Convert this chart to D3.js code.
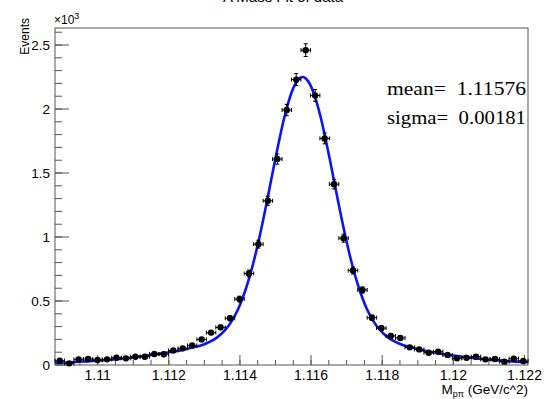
<!DOCTYPE html>
<html>
<head>
<meta charset="utf-8">
<script src="https://cdn.jsdelivr.net/npm/d3@7"></script>
<style>
  html, body { margin: 0; padding: 0; background: #fff; }
  svg { display: block; }
  text.sans { font-family: "Liberation Sans", Arial, Helvetica, sans-serif; }
  text.serif { font-family: "Liberation Serif", "Times New Roman", serif; }
</style>
</head>
<body>
<svg id="chart" width="548" height="399"></svg>
<script>
// ---- data ----
const histTitle = "Λ Mass Fit of data";
const xTitleMain = "M";
const xTitleSub = "pπ";
const xTitleRest = " (GeV/c^2)";
const yTitle = "Events";
const yExponent = "3";
const xRange = [1.1088, 1.1221];
const nBins = 50;
const counts = [34,13,44,47,39,44,57,52,65,65,
                86,84,113,130,153,200,253,294,365,515,
                715,944,1283,1609,1992,2230,2460,2106,1770,1413,
                991,738,586,370,288,227,211,138,122,96,
                104,78,52,57,65,44,47,26,49,31];
const fitX = [1.1088,1.1091,1.1096,1.1101,1.1106,1.1111,1.1116,1.1121,1.11236,1.11276,
              1.11296,1.11316,1.11336,1.11356,1.11376,1.11386,1.11396,1.11406,1.11416,1.11426,
              1.11436,1.11446,1.11456,1.11466,1.11476,1.11486,1.11496,1.11506,1.11516,1.11526,
              1.11536,1.11546,1.11556,1.11566,1.11576,1.11586,1.11596,1.11606,1.11616,1.11626,
              1.11636,1.11646,1.11656,1.11666,1.11676,1.11686,1.11696,1.11706,1.11716,1.11726,
              1.11736,1.11746,1.11756,1.11766,1.11776,1.11796,1.11816,1.11836,1.11856,1.11876,
              1.11916,1.11966,1.12016,1.12066,1.12116,1.12166,1.1221];
const fitY = [17,20,27,35,47,63,82,104,116,142,
              158,182,216,266,339,388,444,512,590,679,
              779,891,1012,1142,1279,1420,1560,1698,1828,1947,
              2050,2135,2198,2237,2250,2237,2198,2135,2050,1947,
              1828,1698,1560,1420,1279,1142,1012,891,779,679,
              590,512,444,388,339,266,216,182,158,142,
              113,88,68,51,38,28,22];
const xMajorTicks = [1.110,1.112,1.114,1.116,1.118,1.120,1.122];
const xTickLabels = ["1.11","1.112","1.114","1.116","1.118","1.12","1.122"];
const yMajorTicks = [0,500,1000,1500,2000,2500];
const yTickLabels = ["0","0.5","1","1.5","2","2.5"];
const yMax = 2633;
const statLabels = ["mean=  1.11576", "sigma=  0.00181"];

// ---- layout ----
const L = 55, R = 528, T = 28, B = 365;
const svg = d3.select("#chart");
const x = d3.scaleLinear().domain(xRange).range([L, R]);
const y = d3.scaleLinear().domain([0, yMax]).range([B, T]);
const binW = (xRange[1] - xRange[0]) / nBins;
const pts = counts.map((c, i) => ({ xc: xRange[0] + (i + 0.5) * binW, v: c, e: Math.sqrt(c) }));

// title (mostly clipped at the top, as in reference)
svg.append("text").attr("class", "sans").attr("x", 283).attr("y", 2).attr("text-anchor", "middle")
  .attr("font-size", 15).attr("fill", "#000").text(histTitle);

// frame
svg.append("rect").attr("x", L).attr("y", T).attr("width", R - L).attr("height", B - T)
  .attr("fill", "none").attr("stroke", "#555").attr("stroke-width", 1);

// x axis ticks
const xMinor = d3.range(1.1090, xRange[1] + 1e-9, 0.0005);
const tickCol = "#555";
svg.append("g").selectAll("line").data(xMinor).join("line")
  .attr("x1", d => x(d)).attr("x2", d => x(d)).attr("y1", B).attr("y2", B - 5)
  .attr("stroke", tickCol);
svg.append("g").selectAll("line").data(xMajorTicks).join("line")
  .attr("x1", d => x(d)).attr("x2", d => x(d)).attr("y1", B).attr("y2", B - 10)
  .attr("stroke", tickCol);
svg.append("g").selectAll("text").data(xMajorTicks).join("text").attr("class", "sans")
  .attr("x", d => x(d)).attr("y", 380).attr("text-anchor", "middle")
  .attr("font-size", 14).attr("fill", "#000")
  .text((d, i) => xTickLabels[i]);

// y axis ticks
const yMinor = d3.range(0, 2601, 100);
svg.append("g").selectAll("line").data(yMinor).join("line")
  .attr("x1", L).attr("x2", L + 7).attr("y1", d => y(d)).attr("y2", d => y(d))
  .attr("stroke", tickCol);
svg.append("g").selectAll("line").data(yMajorTicks).join("line")
  .attr("x1", L).attr("x2", L + 14).attr("y1", d => y(d)).attr("y2", d => y(d))
  .attr("stroke", tickCol);
svg.append("g").selectAll("text").data(yMajorTicks).join("text").attr("class", "sans")
  .attr("x", 50).attr("y", d => y(d) + 5).attr("text-anchor", "end")
  .attr("font-size", 13.5).attr("fill", "#000")
  .text((d, i) => yTickLabels[i]);

// exponent label
const ex = svg.append("text").attr("class", "sans").attr("x", 54).attr("y", 24).attr("font-size", 12).attr("fill", "#000");
ex.append("tspan").text("×10");
ex.append("tspan").attr("dy", -5).attr("font-size", 9).text(yExponent);

// y title
svg.append("text").attr("class", "sans").attr("transform", "translate(29,18) rotate(-90)")
  .attr("text-anchor", "end").attr("font-size", 12).attr("fill", "#000").text(yTitle);

// x title
const xt = svg.append("text").attr("class", "sans").attr("x", R).attr("y", 394).attr("text-anchor", "end")
  .attr("font-size", 13.5).attr("fill", "#000");
xt.append("tspan").text(xTitleMain);
xt.append("tspan").attr("dy", 3).attr("font-size", 9).text(xTitleSub);
xt.append("tspan").attr("dy", -3).text(xTitleRest);

// fit curve
svg.append("clipPath").attr("id", "pc").append("rect")
  .attr("x", L).attr("y", T).attr("width", R - L).attr("height", B - T);
const line = d3.line().x(d => x(d[0])).y(d => y(d[1])).curve(d3.curveMonotoneX);
svg.append("path").attr("clip-path", "url(#pc)")
  .datum(fitX.map((xv, i) => [xv, fitY[i]]))
  .attr("d", line).attr("fill", "none").attr("stroke", "#0a14f5").attr("stroke-width", 2.6);

// data points with error bars
const g = svg.append("g").attr("stroke", "#000").attr("stroke-width", 1);
const cap = 2;
pts.forEach(p => {
  const cx = x(p.xc), cy = y(p.v);
  const xl = x(p.xc - binW / 2), xr = x(p.xc + binW / 2);
  const yt = y(p.v + p.e), yb = y(p.v - p.e);
  g.append("line").attr("x1", xl).attr("x2", xr).attr("y1", cy).attr("y2", cy);
  g.append("line").attr("x1", xl).attr("x2", xl).attr("y1", cy - cap).attr("y2", cy + cap);
  g.append("line").attr("x1", xr).attr("x2", xr).attr("y1", cy - cap).attr("y2", cy + cap);
  g.append("line").attr("x1", cx).attr("x2", cx).attr("y1", yt).attr("y2", yb);
  g.append("line").attr("x1", cx - cap).attr("x2", cx + cap).attr("y1", yt).attr("y2", yt);
  g.append("line").attr("x1", cx - cap).attr("x2", cx + cap).attr("y1", yb).attr("y2", yb);
});
svg.append("g").selectAll("circle").data(pts).join("circle")
  .attr("cx", d => x(d.xc)).attr("cy", d => y(d.v)).attr("r", 3.2).attr("fill", "#000");

// stats text
svg.append("g").selectAll("text").data(statLabels).join("text").attr("class", "serif")
  .attr("x", 387).attr("y", (d, i) => 95 + i * 29)
  .attr("font-size", 19).attr("fill", "#000")
  .attr("textLength", 139).attr("lengthAdjust", "spacingAndGlyphs")
  .style("white-space", "pre")
  .text(d => d);
</script>
</body>
</html>
